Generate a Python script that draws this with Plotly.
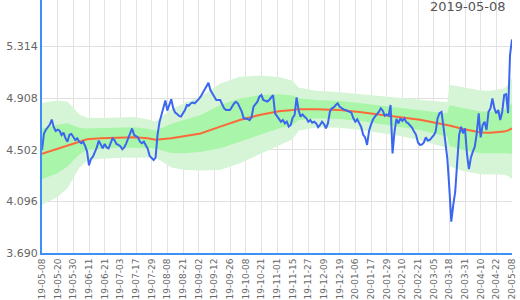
import plotly.graph_objects as go

# x-axis category labels (every 8th trading day)
tick_dates = ["2019-05-08", "2019-05-20", "2019-05-30", "2019-06-11", "2019-06-21", "2019-07-03",
              "2019-07-17", "2019-07-29", "2019-08-08", "2019-08-21", "2019-09-02", "2019-09-12",
              "2019-09-26", "2019-10-08", "2019-10-21", "2019-11-01", "2019-11-15", "2019-11-27",
              "2019-12-09", "2019-12-19", "2020-01-06", "2020-01-17", "2020-01-29", "2020-02-10",
              "2020-02-21", "2020-03-05", "2020-03-18", "2020-03-31", "2020-04-10", "2020-04-22",
              "2020-05-08"]
label_step = 8

# y tick labels
y_ticks = [3.690, 4.096, 4.502, 4.908, 5.314]

# price series (trading-day index, value)
price_idx = [0, 1, 2, 4, 5, 6, 7, 8, 9, 10, 11, 12, 13, 14, 15, 16, 17, 18, 19, 20,
             21, 22, 23, 24, 25, 26, 27, 28, 29, 30, 31, 32, 33, 34, 35, 36, 37, 38, 39, 40,
             41, 42, 43, 44, 45, 46, 47, 48, 49, 50, 51, 52, 53, 54, 55, 56, 57, 58, 59, 60,
             61, 62, 63, 64, 65, 66, 67, 68, 69, 70, 71, 72, 73, 74, 75, 76, 77, 78, 79, 80,
             81, 82, 84, 85, 86, 87, 88, 89, 91, 92, 93, 94, 96, 98, 99, 100, 102, 103, 104, 105,
             106, 107, 108, 110, 111, 112, 113, 115, 116, 118, 119, 120, 121, 122, 123, 124, 125, 126, 127, 128,
             129, 130, 131, 132, 133, 134, 135, 136, 137, 138, 139, 140, 141, 142, 143, 144, 145, 146, 147, 148,
             149, 150, 151, 152, 153, 154, 155, 156, 157, 158, 159, 160, 161, 162, 163, 164, 165, 166, 167, 168,
             169, 170, 171, 172, 173, 174, 175, 176, 177, 178, 179, 180, 181, 182, 183, 184, 185, 186, 187, 188,
             189, 190, 191, 192, 193, 194, 195, 196, 197, 198, 199, 200, 201, 202, 203, 204, 205, 206, 207, 208,
             209, 210, 211, 212, 213, 214, 215, 216, 217, 218, 219, 220, 221, 222, 223, 224, 225, 226, 227, 228,
             229, 230, 231, 232, 233, 234, 235, 236, 237, 238, 239, 240]
price_val = [4.50, 4.63, 4.66, 4.70, 4.74, 4.68, 4.65, 4.66, 4.652, 4.618, 4.637, 4.592, 4.566, 4.62, 4.626, 4.605, 4.579, 4.592, 4.566, 4.553,
             4.566, 4.532, 4.49, 4.38, 4.43, 4.448, 4.479, 4.521, 4.574, 4.548, 4.513, 4.548, 4.521, 4.513, 4.558, 4.592, 4.579, 4.548, 4.540, 4.53,
             4.506, 4.52, 4.553, 4.592, 4.645, 4.67, 4.62, 4.61, 4.60, 4.566, 4.553, 4.566, 4.54, 4.51, 4.453, 4.435, 4.422, 4.44, 4.62, 4.72,
             4.776, 4.815, 4.89, 4.81, 4.86, 4.90, 4.83, 4.795, 4.784, 4.768, 4.763, 4.79, 4.815, 4.854, 4.85, 4.868, 4.873, 4.868, 4.881, 4.90,
             4.92, 4.945, 4.999, 5.03, 4.972, 4.94, 4.92, 4.894, 4.894, 4.86, 4.828, 4.815, 4.815, 4.865, 4.88, 4.868, 4.802, 4.75, 4.75, 4.745,
             4.736, 4.757, 4.841, 4.881, 4.920, 4.933, 4.894, 4.881, 4.894, 4.933, 4.789, 4.763, 4.745, 4.723, 4.736, 4.710, 4.723, 4.684, 4.697, 4.755,
             4.776, 4.915, 4.815, 4.763, 4.78, 4.763, 4.750, 4.723, 4.736, 4.715, 4.723, 4.710, 4.68, 4.697, 4.723, 4.705, 4.671, 4.710, 4.802, 4.828,
             4.835, 4.854, 4.868, 4.841, 4.828, 4.820, 4.815, 4.810, 4.805, 4.794, 4.75, 4.723, 4.742, 4.715, 4.68, 4.62, 4.60, 4.54, 4.65, 4.70,
             4.74, 4.763, 4.78, 4.80, 4.828, 4.81, 4.77, 4.78, 4.77, 4.855, 4.474, 4.645, 4.745, 4.71, 4.75, 4.73, 4.75, 4.72, 4.71, 4.69,
             4.675, 4.645, 4.62, 4.56, 4.54, 4.543, 4.56, 4.60, 4.575, 4.58, 4.60, 4.615, 4.645, 4.75, 4.79, 4.80, 4.684, 4.56, 4.43, 4.20,
             3.937, 4.068, 4.17, 4.40, 4.62, 4.684, 4.632, 4.671, 4.47, 4.35, 4.44, 4.487, 4.527, 4.632, 4.789, 4.60, 4.697, 4.723, 4.658, 4.80,
             4.828, 4.907, 4.828, 4.789, 4.815, 4.736, 4.80, 4.933, 4.94, 4.79, 5.25, 5.37]

# moving average and its standard deviation (read at knots)
band_idx = [0, 8, 13, 16, 19, 23, 30, 40, 47, 54, 58, 66, 72, 81, 91, 101, 111, 121, 128, 131,
            140, 152, 162, 172, 183, 193, 204, 207, 208, 215, 224, 229, 236, 238, 240]
ma_val = [4.47, 4.51, 4.54, 4.555, 4.57, 4.585, 4.592, 4.60, 4.60, 4.592, 4.582, 4.592, 4.605, 4.63, 4.684,
          4.736, 4.776, 4.805, 4.815, 4.822, 4.822, 4.815, 4.80, 4.78, 4.76, 4.738, 4.705, 4.697, 4.693,
          4.665, 4.639, 4.637, 4.645, 4.655, 4.671]
sd_val = [0.20, 0.19, 0.17, 0.14, 0.105, 0.085, 0.08, 0.08, 0.08, 0.075, 0.07, 0.115, 0.13, 0.145, 0.17,
          0.17, 0.155, 0.135, 0.115, 0.085, 0.072, 0.07, 0.07, 0.072, 0.075, 0.08, 0.088, 0.09, 0.16,
          0.165, 0.165, 0.165, 0.17, 0.18, 0.20]

outer_hi = [m + 2 * s for m, s in zip(ma_val, sd_val)]
outer_lo = [m - 2 * s for m, s in zip(ma_val, sd_val)]
inner_hi = [m + s for m, s in zip(ma_val, sd_val)]
inner_lo = [m - s for m, s in zip(ma_val, sd_val)]

PALE = "#d6f5d6"
BRIGHT = "#a9f5a9"
BLUE = "#3a66f0"
ORANGE = "#fb6a3a"
AXIS = "#3d8ff5"

fig = go.Figure()
fig.add_trace(go.Scatter(x=band_idx, y=outer_lo, mode="lines", line=dict(width=0), hoverinfo="skip", showlegend=False))
fig.add_trace(go.Scatter(x=band_idx, y=outer_hi, mode="lines", line=dict(width=0), fill="tonexty",
                         fillcolor=PALE, hoverinfo="skip", showlegend=False))
fig.add_trace(go.Scatter(x=band_idx, y=inner_lo, mode="lines", line=dict(width=0), hoverinfo="skip", showlegend=False))
fig.add_trace(go.Scatter(x=band_idx, y=inner_hi, mode="lines", line=dict(width=0), fill="tonexty",
                         fillcolor=BRIGHT, hoverinfo="skip", showlegend=False))
fig.add_trace(go.Scatter(x=band_idx, y=ma_val, mode="lines", line=dict(color=ORANGE, width=2), showlegend=False))
fig.add_trace(go.Scatter(x=price_idx, y=price_val, mode="lines", line=dict(color=BLUE, width=2), showlegend=False))

n_last = (len(tick_dates) - 1) * label_step
fig.update_layout(
    width=520, height=300,
    margin=dict(l=42, r=8, t=0, b=47),
    paper_bgcolor="white", plot_bgcolor="white",
    font=dict(family="DejaVu Sans", color="#666666"),
    showlegend=False,
    xaxis=dict(range=[0, n_last], tickmode="array",
               tickvals=[i * label_step for i in range(len(tick_dates))], ticktext=tick_dates,
               tickangle=-90, tickfont=dict(size=9, color="#666666"), automargin=False,
               showgrid=True, gridcolor="#e3e3e3", gridwidth=1,
               showline=True, linecolor=AXIS, linewidth=2, zeroline=False, ticks=""),
    yaxis=dict(range=[3.690, 5.6806], tickmode="array", tickvals=y_ticks, automargin=False,
               ticktext=["%.3f" % v for v in y_ticks], tickfont=dict(size=11, color="#666666"),
               showgrid=True, gridcolor="#e0e0e0", gridwidth=1,
               showline=True, linecolor=AXIS, linewidth=2, zeroline=False, ticks=""),
    annotations=[dict(text="2019-05-08", xref="paper", yref="paper", x=1, y=1,
                      xanchor="right", yanchor="top", xshift=-4, yshift=3, showarrow=False,
                      font=dict(size=13, color="#555555"))],
)

fig.write_html("out.html")
